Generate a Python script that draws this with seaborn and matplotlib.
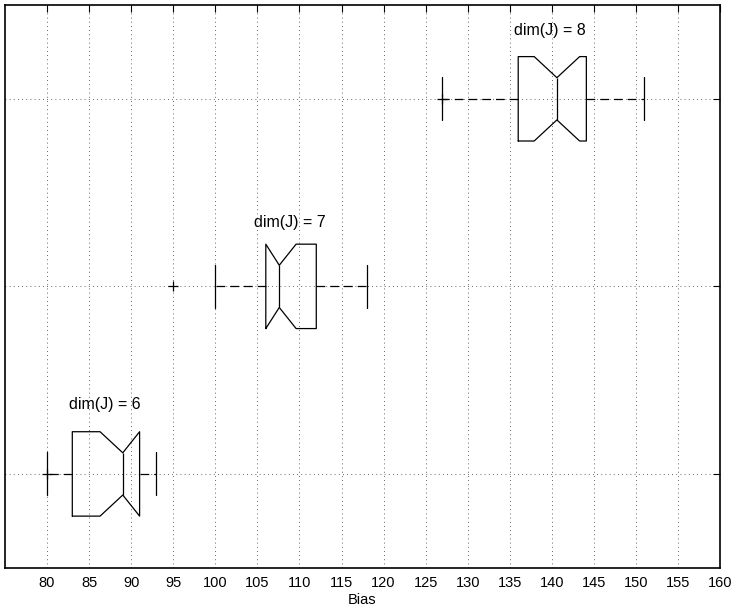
import matplotlib
matplotlib.use("Agg")
import matplotlib.pyplot as plt
import seaborn as sns

# ===================== DATOS =====================
grupos = ["dim(J) = 6", "dim(J) = 7", "dim(J) = 8"]
posiciones = [1, 2, 3]
bigote_inf = [80, 100, 127]
q1 = [83, 106, 136]
muesca_inf = [86.3, 106, 137.9]
mediana = [89, 107.6, 140.6]
muesca_sup = [91, 109.6, 143.3]
q3 = [91, 112, 144.1]
bigote_sup = [93, 118, 151]
atipicos_x = [80, 95, 127]
atipicos_y = [1, 2, 3]
texto_x = [86.9, 108.8, 139.8]
texto_y = [1.345, 2.315, 3.34]
ticks_x = list(range(80, 161, 5))

# ===================== ESTILO =====================
sns.set_style("white")
plt.rcParams['font.family'] = ['Liberation Sans', 'DejaVu Sans']
plt.rcParams['text.color'] = 'k'
plt.rcParams['axes.labelcolor'] = 'k'

fig = plt.figure(figsize=(7.34, 6.13), dpi=100)
ax = fig.add_axes([0.0068, 0.0739, 0.9743, 0.9179])

stats = []
for i in range(len(grupos)):
    stats.append({
        'label': grupos[i],
        'whislo': bigote_inf[i], 'q1': q1[i], 'med': mediana[i],
        'q3': q3[i], 'whishi': bigote_sup[i],
        'cilo': muesca_inf[i], 'cihi': muesca_sup[i],
        'fliers': [],
    })

linea = dict(color='k', linewidth=0.9)
ax.bxp(stats, positions=posiciones, widths=0.45, orientation='horizontal',
       shownotches=True, showfliers=False, manage_ticks=False, capwidths=0.23,
       boxprops=linea, medianprops=linea, capprops=linea,
       whiskerprops=dict(color='k', linewidth=0.9, linestyle=(0, (7, 4))))

# valores atípicos ('+')
sns.scatterplot(x=atipicos_x, y=atipicos_y, marker='+', color='k', s=45,
                linewidth=0.9, ax=ax, zorder=4)

for tx, ty, g in zip(texto_x, texto_y, grupos):
    ax.text(tx, ty, g, ha='center', va='baseline', fontsize=11.5, color='k')

ax.set_xlim(75, 160)
ax.set_ylim(0.5, 3.5)
ax.set_xticks(ticks_x)
ax.set_yticks(posiciones)
ax.set_yticklabels([])
ax.set_xlabel('Bias', fontsize=10.5, labelpad=2)
ax.set_ylabel('')

ax.grid(True, color='k', linewidth=0.6, linestyle=(0, (1, 4)), alpha=0.8)
ax.set_axisbelow(True)
ax.tick_params(direction='in', top=True, right=True, length=5, width=0.8,
               labelsize=10.5, pad=6, colors='k')
for s in ax.spines.values():
    s.set_visible(True)
    s.set_color('k')
    s.set_linewidth(1.2)

fig.savefig('out.png', dpi=100)
